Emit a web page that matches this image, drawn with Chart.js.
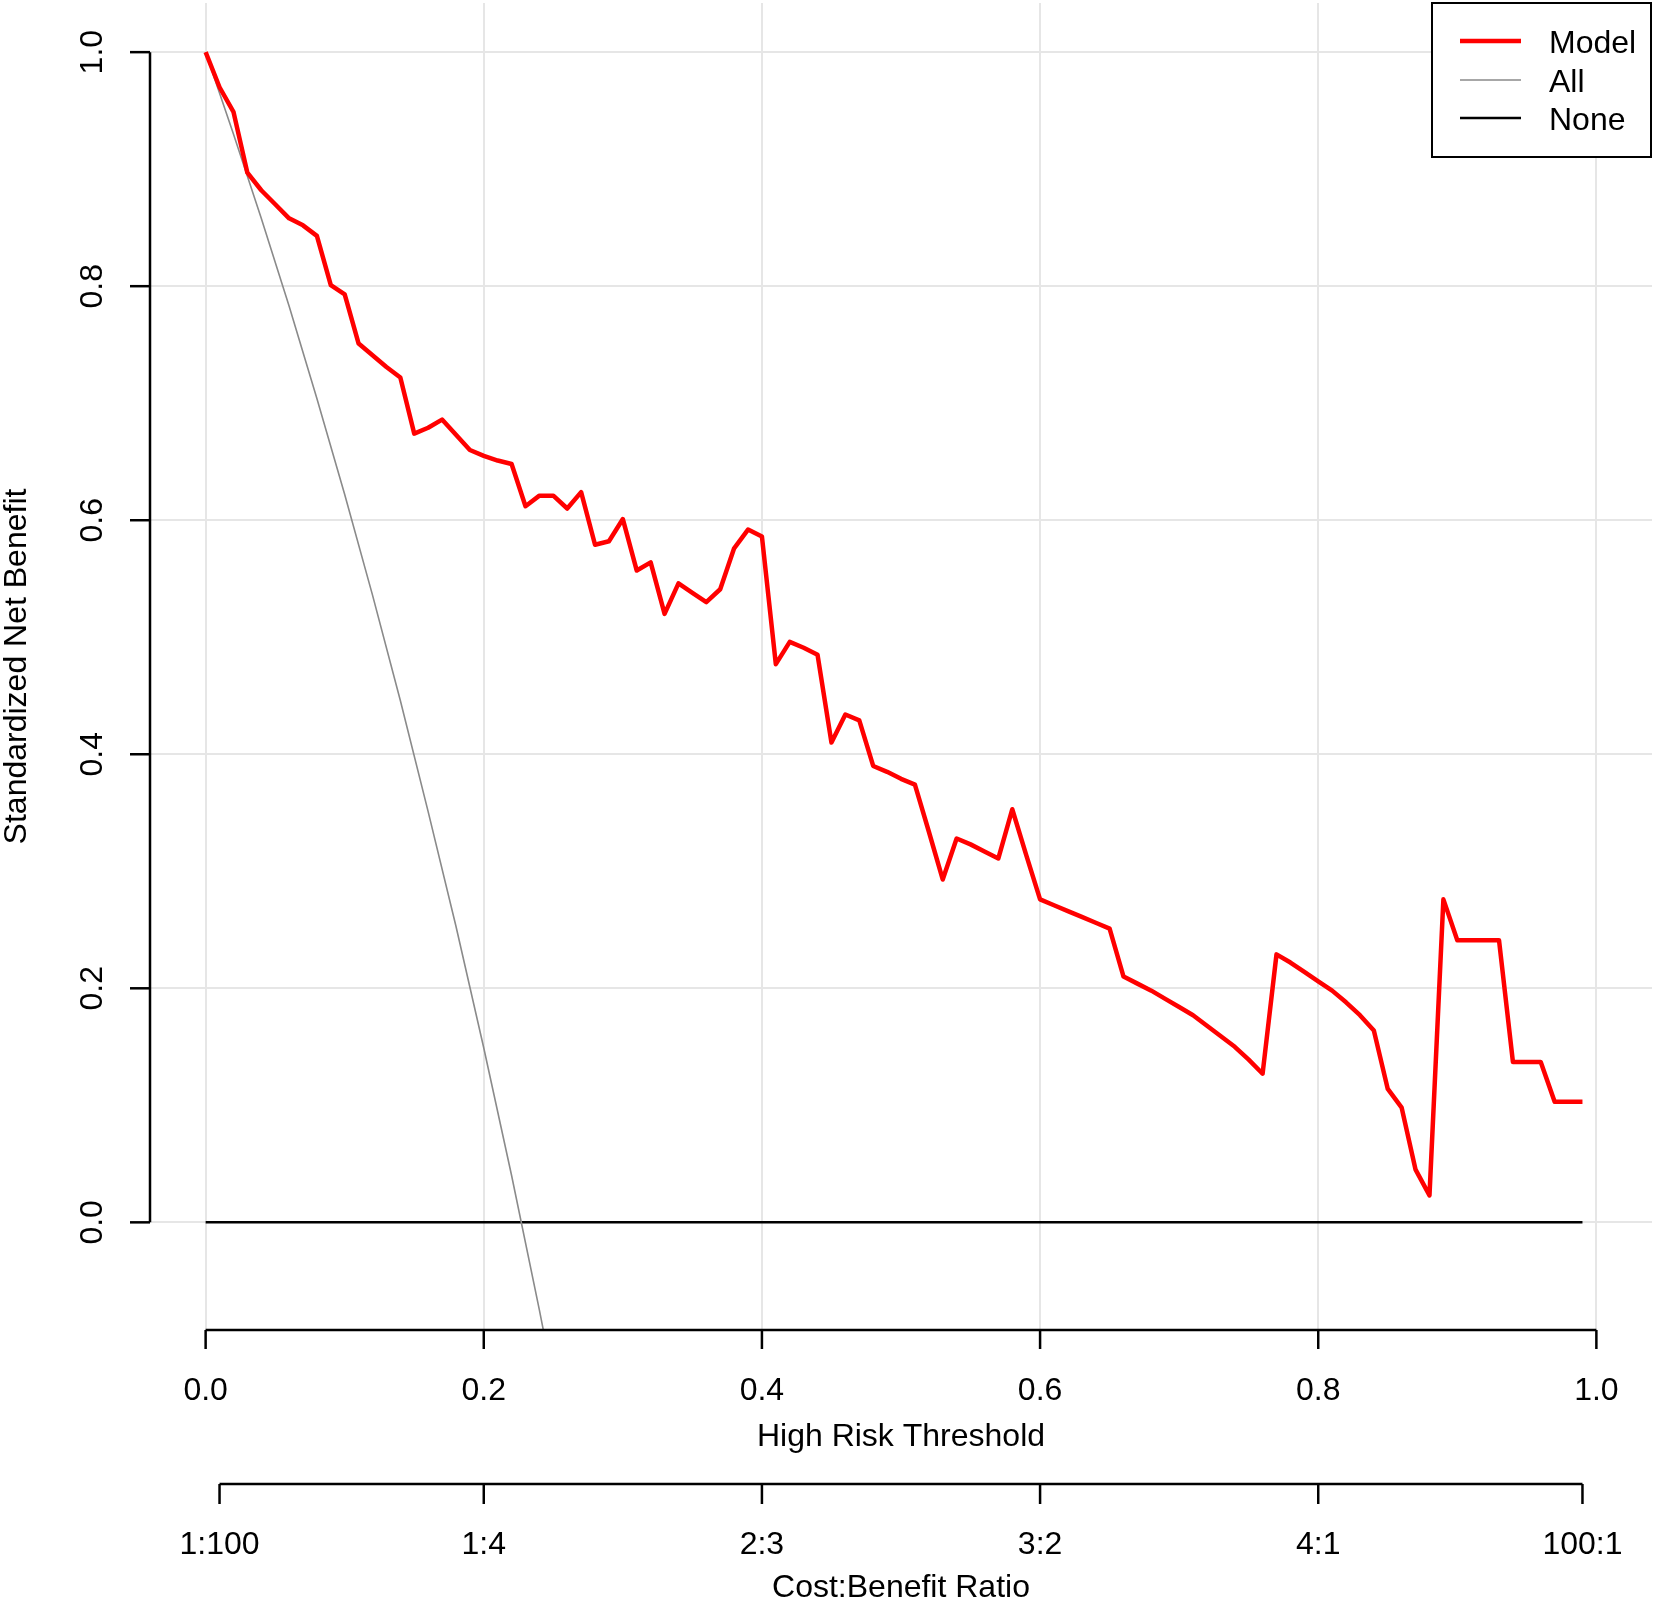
<!DOCTYPE html>
<html>
<head>
<meta charset="utf-8">
<title>Decision curve</title>
<script src="https://cdn.jsdelivr.net/npm/chart.js@4.4.1/dist/chart.umd.min.js"></script>
<style>
  html, body { margin: 0; padding: 0; background: #ffffff; }
  #wrap { width: 1654px; height: 1600px; }
</style>
</head>
<body>
<div id="wrap"><canvas id="dca" width="1654" height="1600"></canvas></div>
<script>
// threshold probabilities used for the model curve
const thresholds = [
  0.00, 0.01, 0.02, 0.03, 0.04, 0.05, 0.06, 0.07, 0.08, 0.09,
  0.10, 0.11, 0.12, 0.13, 0.14, 0.15, 0.16, 0.17, 0.18, 0.19,
  0.20, 0.21, 0.22, 0.23, 0.24, 0.25, 0.26, 0.27, 0.28, 0.29,
  0.30, 0.31, 0.32, 0.33, 0.34, 0.35, 0.36, 0.37, 0.38, 0.39,
  0.40, 0.41, 0.42, 0.43, 0.44, 0.45, 0.46, 0.47, 0.48, 0.49,
  0.50, 0.51, 0.52, 0.53, 0.54, 0.55, 0.56, 0.57, 0.58, 0.59,
  0.60, 0.61, 0.62, 0.63, 0.64, 0.65, 0.66, 0.67, 0.68, 0.69,
  0.70, 0.71, 0.72, 0.73, 0.74, 0.75, 0.76, 0.77, 0.78, 0.79,
  0.80, 0.81, 0.82, 0.83, 0.84, 0.85, 0.86, 0.87, 0.88, 0.89,
  0.90, 0.91, 0.92, 0.93, 0.94, 0.95, 0.96, 0.97, 0.98, 0.99
];

// standardized net benefit of the model
const modelNetBenefit = [
  1.000, 0.970, 0.949, 0.897, 0.882, 0.870, 0.858, 0.852, 0.843, 0.801,
  0.793, 0.751, 0.741, 0.731, 0.722, 0.674, 0.679, 0.686, 0.673, 0.660,
  0.655, 0.651, 0.648, 0.612, 0.621, 0.621, 0.610, 0.624, 0.579, 0.582,
  0.601, 0.557, 0.564, 0.520, 0.546, 0.538, 0.530, 0.541, 0.576, 0.592,
  0.586, 0.477, 0.496, 0.491, 0.485, 0.410, 0.434, 0.429, 0.390, 0.385,
  0.379, 0.374, 0.334, 0.293, 0.328, 0.323, 0.317, 0.311, 0.353, 0.314,
  0.276, 0.271, 0.266, 0.261, 0.256, 0.251, 0.210, 0.204, 0.198, 0.191,
  0.184, 0.177, 0.168, 0.159, 0.150, 0.139, 0.127, 0.229, 0.222, 0.214,
  0.206, 0.198, 0.188, 0.177, 0.164, 0.114, 0.098, 0.045, 0.023, 0.276,
  0.241, 0.241, 0.241, 0.241, 0.137, 0.137, 0.137, 0.103, 0.103, 0.103
];

// treat-all curve (runs off the bottom of the plot)
const allThresholds = [0.00, 0.02, 0.04, 0.06, 0.08, 0.10, 0.12, 0.14, 0.16, 0.18, 0.20, 0.22, 0.24, 0.26];
const allNetBenefit = [1.000, 0.930, 0.858, 0.783, 0.704, 0.622, 0.536, 0.446, 0.351, 0.253, 0.149, 0.040, -0.075, -0.196];

// treat-none curve
const noneThresholds = [0.00, 0.99];
const noneNetBenefit = [0, 0];

// axes
const riskTicks = [0, 0.2, 0.4, 0.6, 0.8, 1.0];
const riskTickLabels = ["0.0", "0.2", "0.4", "0.6", "0.8", "1.0"];
const ratioTicks = [0.01, 0.2, 0.4, 0.6, 0.8, 0.99];
const ratioTickLabels = ["1:100", "1:4", "2:3", "3:2", "4:1", "100:1"];
const benefitTicks = [0, 0.2, 0.4, 0.6, 0.8, 1.0];
const benefitTickLabels = ["0.0", "0.2", "0.4", "0.6", "0.8", "1.0"];

const seriesNames = ["Model", "All", "None"];
const seriesColors = ["#ff0000", "#8a8a8a", "#000000"];
const seriesWidths = [4.5, 1.6, 2.5];

const FONT = '32px "Liberation Sans", Arial, Helvetica, sans-serif';

const toPoints = (xs, ys) => xs.map((x, i) => ({ x: x, y: ys[i] }));

// R base graphics look: grid under the lines, detached axes, boxed legend
const rStylePlugin = {
  id: "rStyle",
  beforeDatasetsDraw(chart) {
    const { ctx, chartArea: a, scales: { x, y } } = chart;
    ctx.save();
    ctx.strokeStyle = "#e6e6e6";
    ctx.lineWidth = 2;
    riskTicks.forEach((v) => {
      const px = Math.round(x.getPixelForValue(v));
      ctx.beginPath();
      ctx.moveTo(px, a.top);
      ctx.lineTo(px, a.bottom);
      ctx.stroke();
    });
    benefitTicks.forEach((v) => {
      const py = Math.round(y.getPixelForValue(v));
      ctx.beginPath();
      ctx.moveTo(a.left, py);
      ctx.lineTo(a.right, py);
      ctx.stroke();
    });
    ctx.restore();
  },
  afterDatasetsDraw(chart) {
    const { ctx, chartArea: a, scales: { x, y } } = chart;
    ctx.save();
    ctx.strokeStyle = "#000";
    ctx.fillStyle = "#000";
    ctx.lineWidth = 2.5;
    ctx.font = FONT;

    // left axis
    const y0 = y.getPixelForValue(benefitTicks[0]);
    const y1 = y.getPixelForValue(benefitTicks[benefitTicks.length - 1]);
    ctx.beginPath();
    ctx.moveTo(a.left, y0);
    ctx.lineTo(a.left, y1);
    ctx.stroke();
    benefitTicks.forEach((v, i) => {
      const py = y.getPixelForValue(v);
      ctx.beginPath();
      ctx.moveTo(a.left, py);
      ctx.lineTo(a.left - 20, py);
      ctx.stroke();
      ctx.save();
      ctx.translate(102, py);
      ctx.rotate(-Math.PI / 2);
      ctx.textAlign = "center";
      ctx.textBaseline = "alphabetic";
      ctx.fillText(benefitTickLabels[i], 0, 0);
      ctx.restore();
    });
    ctx.save();
    ctx.translate(26, (a.top + a.bottom) / 2);
    ctx.rotate(-Math.PI / 2);
    ctx.textAlign = "center";
    ctx.fillText("Standardized Net Benefit", 0, 0);
    ctx.restore();

    // bottom axis: risk threshold
    const xb = a.bottom;
    ctx.beginPath();
    ctx.moveTo(x.getPixelForValue(riskTicks[0]), xb);
    ctx.lineTo(x.getPixelForValue(riskTicks[riskTicks.length - 1]), xb);
    ctx.stroke();
    ctx.textAlign = "center";
    ctx.textBaseline = "alphabetic";
    riskTicks.forEach((v, i) => {
      const px = x.getPixelForValue(v);
      ctx.beginPath();
      ctx.moveTo(px, xb);
      ctx.lineTo(px, xb + 19);
      ctx.stroke();
      ctx.fillText(riskTickLabels[i], px, 1400);
    });
    const midX = (a.left + a.right) / 2;
    ctx.fillText("High Risk Threshold", midX, 1446);

    // second axis: cost:benefit ratio
    const rb = 1484;
    ctx.beginPath();
    ctx.moveTo(x.getPixelForValue(ratioTicks[0]), rb);
    ctx.lineTo(x.getPixelForValue(ratioTicks[ratioTicks.length - 1]), rb);
    ctx.stroke();
    ratioTicks.forEach((v, i) => {
      const px = x.getPixelForValue(v);
      ctx.beginPath();
      ctx.moveTo(px, rb);
      ctx.lineTo(px, rb + 20);
      ctx.stroke();
      ctx.fillText(ratioTickLabels[i], px, 1554);
    });
    ctx.fillText("Cost:Benefit Ratio", midX, 1597);

    // legend box, top right
    const lx = 1432, ly = 3, lw = 219, lh = 154;
    ctx.fillStyle = "#fff";
    ctx.fillRect(lx, ly, lw, lh);
    ctx.lineWidth = 2;
    ctx.strokeRect(lx, ly, lw, lh);
    const rows = [41, 80, 118];
    ctx.textAlign = "left";
    seriesNames.forEach((name, i) => {
      ctx.strokeStyle = seriesColors[i];
      ctx.lineWidth = seriesWidths[i];
      ctx.beginPath();
      ctx.moveTo(1460, rows[i]);
      ctx.lineTo(1521, rows[i]);
      ctx.stroke();
      ctx.fillStyle = "#000";
      ctx.fillText(name, 1549, rows[i] + 12);
    });
    ctx.restore();
  }
};

new Chart(document.getElementById("dca"), {
  type: "line",
  data: {
    datasets: [
      {
        label: seriesNames[0],
        data: toPoints(thresholds, modelNetBenefit),
        borderColor: seriesColors[0],
        borderWidth: seriesWidths[0],
        borderJoinStyle: "round",
        pointRadius: 0,
        tension: 0,
        fill: false
      },
      {
        label: seriesNames[1],
        data: toPoints(allThresholds, allNetBenefit),
        borderColor: seriesColors[1],
        borderWidth: seriesWidths[1],
        pointRadius: 0,
        tension: 0,
        fill: false
      },
      {
        label: seriesNames[2],
        data: toPoints(noneThresholds, noneNetBenefit),
        borderColor: seriesColors[2],
        borderWidth: seriesWidths[2],
        pointRadius: 0,
        tension: 0,
        fill: false
      }
    ]
  },
  options: {
    responsive: false,
    devicePixelRatio: 1,
    animation: false,
    layout: { padding: { left: 150, top: 3, right: 2, bottom: 270 } },
    scales: {
      x: { type: "linear", min: -0.04, max: 1.04, display: false },
      y: { type: "linear", min: -0.092, max: 1.042, display: false }
    },
    plugins: {
      legend: { display: false },
      tooltip: { enabled: false }
    }
  },
  plugins: [rStylePlugin]
});
</script>
</body>
</html>
